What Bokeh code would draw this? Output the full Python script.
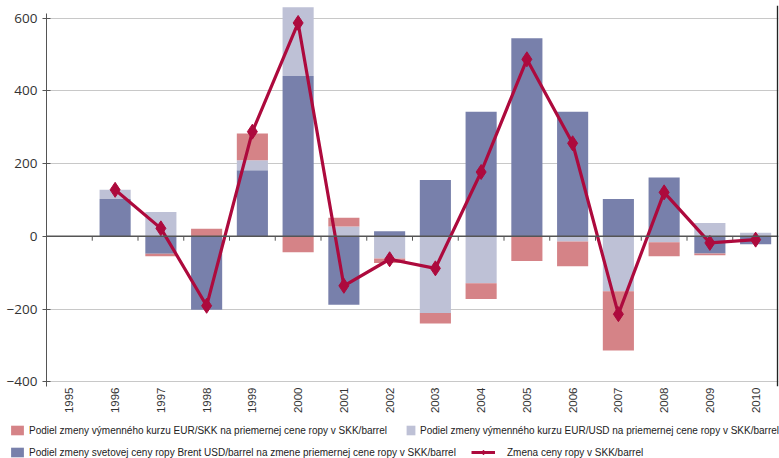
import math
from bokeh.plotting import figure
from bokeh.models import (Range1d, FactorRange, Legend, LegendItem,
                          Span, ColumnDataSource, FixedTicker)
from bokeh.transform import dodge
from bokeh.embed import file_html
from bokeh.resources import INLINE

# ---------------- data ----------------
years = [str(y) for y in range(1995, 2011)]
brent_usd = [0, 103, -48, -202, 182, 441, -188, 14, 155, 343, 545, 343, 103, 162, -47, -22]
eur_usd = [0, 25, 67, 0, 27, 189, 27, -61, -211, -129, 0, -14, -151, -16, 37, 10]
eur_skk = [0, 0, -7, 21, 74, -44, 24, -12, -29, -43, -68, -68, -163, -39, -5, 0]
price_change = [None, 128, 22, -191, 288, 587, -136, -63, -88, 177, 487, 256, -214, 121, -18, -9]
y_ticks = [-400, -200, 0, 200, 400, 600]

label_skk = "Podiel zmeny výmenného kurzu EUR/SKK na priemernej cene ropy v SKK/barrel"
label_usd = "Podiel zmeny výmenného kurzu EUR/USD na priemernej cene ropy v SKK/barrel"
label_brent = "Podiel zmeny svetovej ceny ropy Brent USD/barrel na zmene priemernej cene ropy v SKK/barrel"
label_line = "Zmena ceny ropy v SKK/barrel"

C_BRENT = "#7880AB"
C_USD = "#BEC1D6"
C_SKK = "#D58387"
C_LINE = "#AD0A3D"

FONT = "Liberation Sans"
W = 779

# stacked positions (blue bottom, then lavender, then red; negatives stacked downward)
order = [("brent", brent_usd), ("usd", eur_usd), ("skk", eur_skk)]
pos = [0.0] * len(years)
neg = [0.0] * len(years)
stacks = {}
for name, vals in order:
    bot, top = [], []
    for i, v in enumerate(vals):
        if v >= 0:
            bot.append(pos[i]); top.append(pos[i] + v); pos[i] += v
        else:
            bot.append(neg[i]); top.append(neg[i] + v); neg[i] += v
    stacks[name] = ColumnDataSource(dict(year=years, bottom=bot, top=top))

p = figure(x_range=FactorRange(*years), y_range=Range1d(-413, 635),
           width=W, height=416, output_backend="svg", toolbar_location=None,
           min_border_left=46, min_border_right=1, min_border_top=5, min_border_bottom=27)
p.outline_line_color = None

bar_kw = dict(x="year", bottom="bottom", top="top", width=0.68, line_color=None)
r_brent = p.vbar(fill_color=C_BRENT, source=stacks["brent"], **bar_kw)
r_usd = p.vbar(fill_color=C_USD, source=stacks["usd"], **bar_kw)
r_skk = p.vbar(fill_color=C_SKK, source=stacks["skk"], **bar_kw)

# zero axis line with category ticks
p.add_layout(Span(location=0, dimension="width", line_color="#555555", line_width=1.5, level="glyph"))
tick_src = ColumnDataSource(dict(year=years[1:], y0=[0] * (len(years) - 1), y1=[-12] * (len(years) - 1)))
p.segment(x0=dodge("year", -0.5, range=p.x_range), x1=dodge("year", -0.5, range=p.x_range),
          y0="y0", y1="y1", line_color="#555555", line_width=1, source=tick_src)

# right border line of the plot area
p.add_layout(Span(location=len(years) - 0.02, dimension="height", line_color="#222222", line_width=1.5))

ly = [(y, v) for y, v in zip(years, price_change) if v is not None]
line_src = ColumnDataSource(dict(year=[a for a, b in ly], val=[b for a, b in ly]))
r_line = p.line(x="year", y="val", line_color=C_LINE, line_width=3.2, source=line_src)
r_pts = p.scatter(x="year", y="val", marker="diamond", size=15, color=C_LINE, source=line_src)

# axes
p.yaxis.ticker = FixedTicker(ticks=y_ticks)
p.yaxis.bounds = (-413, 613)
p.yaxis.axis_line_color = "#555555"
p.yaxis.major_tick_line_color = "#555555"
p.yaxis.major_tick_in = 4
p.yaxis.major_tick_out = 4
p.yaxis.minor_tick_line_color = None
p.yaxis.major_label_text_font = "Open Sans"
p.yaxis.major_label_text_font_size = "13.5px"
p.yaxis.major_label_text_color = "#333333"
p.yaxis.major_label_standoff = 5

p.xaxis.axis_line_color = None
p.xaxis.major_tick_line_color = None
p.xaxis.minor_tick_line_color = None
p.xaxis.major_tick_out = 0
p.xaxis.major_tick_in = 0
p.xaxis.major_label_orientation = math.pi / 2
p.xaxis.major_label_standoff = 1
p.xaxis.major_label_text_font = FONT
p.xaxis.major_label_text_font_size = "11.5px"
p.xaxis.major_label_text_color = "#333333"

p.xgrid.grid_line_color = None
p.ygrid.ticker = FixedTicker(ticks=y_ticks)
p.ygrid.grid_line_color = "#C8C8C8"
p.ygrid.grid_line_width = 1

# ---------------- legend strip (separate root, full-width frame) ----------------
p2 = figure(width=W, height=42, x_range=Range1d(0, 1), y_range=Range1d(0, 1),
            output_backend="svg", toolbar_location=None,
            min_border_left=0, min_border_right=0, min_border_top=0, min_border_bottom=0,
            x_axis_location=None, y_axis_location=None)
p2.outline_line_color = None
p2.grid.grid_line_color = None
# one off-screen item per swatch renderer so the legend has a glyph to draw
dummy = ColumnDataSource(dict(x=[-5], y=[-5], b=[-6]))
g_skk = p2.vbar(x="x", top="y", bottom="b", width=0.1, fill_color=C_SKK, line_color=None, source=dummy)
g_usd = p2.vbar(x="x", top="y", bottom="b", width=0.1, fill_color=C_USD, line_color=None, source=dummy)
g_brent = p2.vbar(x="x", top="y", bottom="b", width=0.1, fill_color=C_BRENT, line_color=None, source=dummy)
g_line = p2.line(x="x", y="y", line_color=C_LINE, line_width=3, source=dummy)
g_pts = p2.scatter(x="x", y="y", marker="diamond", size=13, color=C_LINE, source=dummy)


def mk_legend(items, loc, gw, standoff):
    return Legend(items=items, location=loc, orientation="horizontal",
                  glyph_width=gw, glyph_height=12, label_height=12,
                  label_standoff=standoff, padding=0, margin=0, spacing=0,
                  border_line_color=None, background_fill_alpha=0,
                  label_text_font=FONT, label_text_font_size="10px",
                  label_text_color="#222222")


p2.add_layout(mk_legend([LegendItem(label=label_skk, renderers=[g_skk])], (9, 22), 16, 4))
p2.add_layout(mk_legend([LegendItem(label=label_usd, renderers=[g_usd])], (405, 22), 11, 4))
p2.add_layout(mk_legend([LegendItem(label=label_brent, renderers=[g_brent])], (9, 0), 16, 4))
p2.add_layout(mk_legend([LegendItem(label=label_line, renderers=[g_line, g_pts])], (471, 0), 24, 12))

open("out.html", "w").write(file_html([p, p2], INLINE))
